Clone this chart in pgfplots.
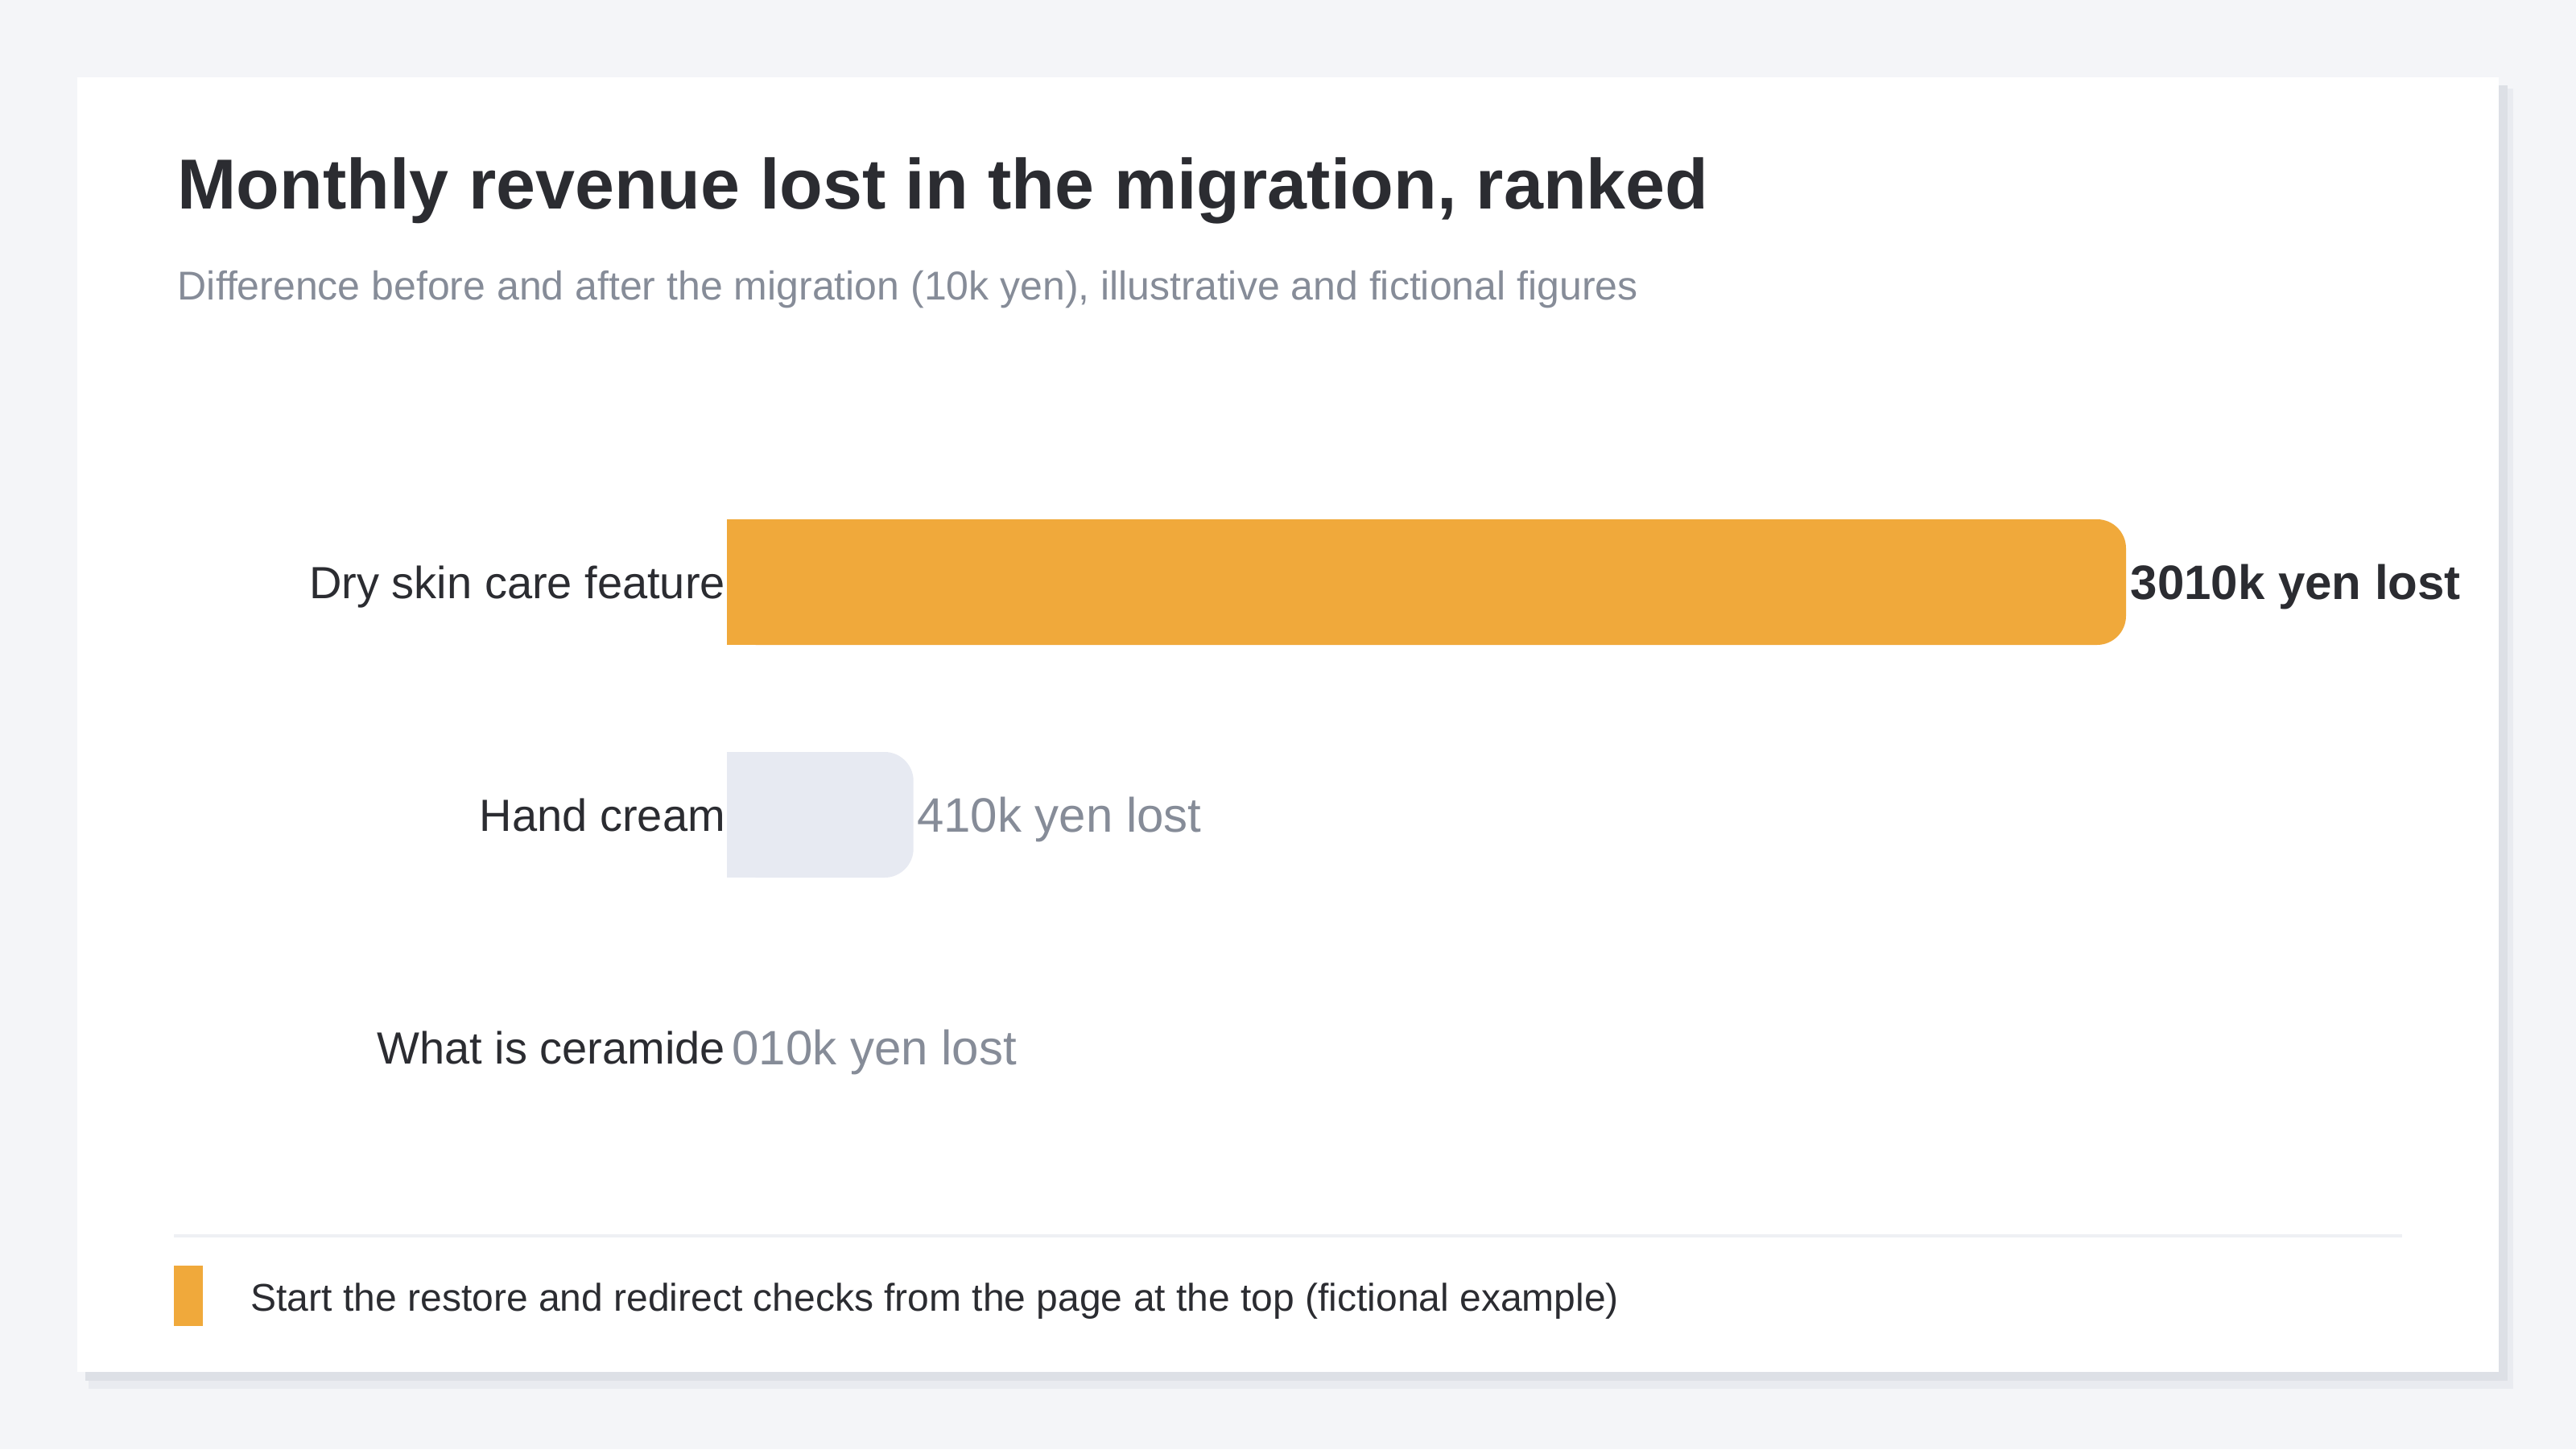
\documentclass[border=0pt]{standalone}
\usepackage{pgfplots}
\pgfplotsset{compat=1.18}
\usepackage{pgfplotstable}
\usepackage{fontspec}
\setmainfont{Liberation Sans}
\definecolor{bg}{HTML}{F4F5F8}
\definecolor{shadowA}{HTML}{DDE0E6}
\definecolor{shadowB}{HTML}{E9EBF0}
\definecolor{barorange}{HTML}{F0A93B}
\definecolor{barlight}{HTML}{E7EAF2}
\definecolor{textdark}{HTML}{2B2C31}
\definecolor{textgray}{HTML}{868C98}
\definecolor{rulecol}{HTML}{EEF0F4}

\pgfplotstableread{
v y
30 0
}\dataA
\pgfplotstableread{
v y
4 1
}\dataB
\pgfplotstableread{
v y
0 2
}\dataC

\begin{document}
\begin{tikzpicture}
\fill[bg] (0,0) rectangle (800pt,450pt);
\fill[shadowB] (27.5pt,18.75pt) rectangle (780.5pt,422.5pt);
\fill[shadowA] (26.5pt,21.25pt) rectangle (778.75pt,423.5pt);
\fill[white] (24pt,24pt) rectangle (776pt,426pt);
\node[anchor=base west, inner sep=0pt, text=textdark, font=\fontsize{22}{26}\selectfont\bfseries] at (54.9pt,385pt) {Monthly revenue lost in the migration, ranked};
\node[anchor=base west, inner sep=0pt, text=textgray, font=\fontsize{12.5}{15}\selectfont] at (55pt,356.75pt) {Difference before and after the migration (10k yen), illustrative and fictional figures};
\fill[rulecol] (54pt,65.75pt) rectangle (746pt,66.75pt);
\fill[barorange] (54pt,38.25pt) rectangle (63pt,57pt);
\node[anchor=base west, inner sep=0pt, text=textdark, font=\fontsize{12}{14}\selectfont] at (77.7pt,43pt) {Start the restore and redirect checks from the page at the top (fictional example)};

\begin{axis}[
  at={(225.75pt,88.625pt)}, anchor=south west,
  scale only axis, width=434.5pt, height=216.75pt,
  xmin=0, xmax=30, ymin=-0.5, ymax=2.5, y dir=reverse,
  axis line style={draw=none},
  xtick=\empty,
  ytick={0,1,2},
  yticklabels={Dry skin care feature,Hand cream,What is ceramide},
  major tick length=0pt,
  yticklabel style={font=\fontsize{14}{17}\selectfont, text=textdark, anchor=base east, inner sep=0pt, xshift=-0.3pt, yshift=-5pt},
  clip=false,
  xbar, bar width=39pt,
  /pgf/number format/assume math mode=true,
  point meta=x,
]
\addplot[xbar, bar shift=0pt, fill=barorange, draw=none, rounded corners=9pt,
  nodes near coords={\pgfmathprintnumber{\pgfplotspointmeta}10k yen lost},
  every node near coord/.append style={anchor=base west, inner sep=0pt, xshift=1.25pt, yshift=-5.3pt, font=\fontsize{15}{18}\selectfont\bfseries, text=textdark}]
  table[x=v,y=y]{\dataA};
\addplot[xbar, bar shift=0pt, fill=barorange, draw=none] table[x expr=\thisrow{v}/2, y=y]{\dataA};
\addplot[xbar, bar shift=0pt, fill=barlight, draw=none, rounded corners=9pt,
  nodes near coords={\pgfmathprintnumber{\pgfplotspointmeta}10k yen lost},
  every node near coord/.append style={anchor=base west, inner sep=0pt, xshift=0.9pt, yshift=-5.3pt, font=\fontsize{15}{18}\selectfont, text=textgray}]
  table[x=v,y=y]{\dataB};
\addplot[xbar, bar shift=0pt, fill=barlight, draw=none] table[x expr=\thisrow{v}/2, y=y]{\dataB};
\addplot[xbar, bar shift=0pt, fill=none, draw=none,
  nodes near coords={\pgfmathprintnumber{\pgfplotspointmeta}10k yen lost},
  every node near coord/.append style={anchor=base west, inner sep=0pt, xshift=1.4pt, yshift=-5.3pt, font=\fontsize{15}{18}\selectfont, text=textgray}]
  table[x=v,y=y]{\dataC};
\end{axis}
\pgfresetboundingbox
\path[use as bounding box] (0,0) rectangle (800pt,450pt);
\end{tikzpicture}
\end{document}
